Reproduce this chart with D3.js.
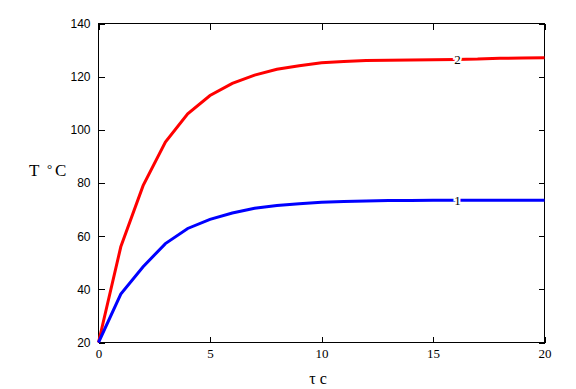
<!DOCTYPE html>
<html>
<head>
<meta charset="utf-8">
<script src="https://cdn.jsdelivr.net/npm/d3@7"></script>
<style>
  body { margin: 0; background: #fff; }
  svg { display: block; }
  .yax text { font-family: "Liberation Sans", Arial, sans-serif; font-size: 12px; }
  .xax text { font-family: "Liberation Serif", "Times New Roman", serif; font-size: 13px; }
</style>
</head>
<body>
<script>
// time, min
var tau = [0,1,2,3,4,5,6,7,8,9,10,11,12,13,14,15,16,17,18,19,20];
// curve 2 (red)
var temp2 = [20,56,79,95.4,106,112.9,117.5,120.6,122.8,124.1,125.2,125.7,126.1,126.2,126.3,126.4,126.5,126.6,126.9,127,127.1];
// curve 1 (blue)
var temp1 = [20,38.2,48.5,57.2,62.9,66.3,68.7,70.5,71.5,72.2,72.8,73,73.2,73.4,73.4,73.5,73.5,73.5,73.5,73.5,73.5];
var xTicks = [0,5,10,15,20];
var yTicks = [20,40,60,80,100,120,140];

var w = 576, h = 389;
var svg = d3.select('body').append('svg').attr('width', w).attr('height', h);

var x = d3.scaleLinear().domain([0,20]).range([98.5,544.5]);
var y = d3.scaleLinear().domain([20,140]).range([342.5,23.5]);

// frame
svg.append('rect')
  .attr('x', x(0)).attr('y', y(140))
  .attr('width', x(20)-x(0)).attr('height', y(20)-y(140))
  .attr('fill', 'none').attr('stroke', '#000').attr('shape-rendering', 'crispEdges');

// axes, ticks inward on all sides
svg.append('g').attr('class','yax')
  .attr('transform', `translate(${x(0)},0)`)
  .call(d3.axisLeft(y).tickValues(yTicks).tickSize(-6).tickPadding(8))
  .call(g => g.select('.domain').remove());
svg.append('g')
  .attr('transform', `translate(${x(20)},0)`)
  .call(d3.axisRight(y).tickValues(yTicks).tickSize(-6).tickFormat(''))
  .call(g => g.select('.domain').remove());
svg.append('g').attr('class','xax')
  .attr('transform', `translate(0,${y(20)})`)
  .call(d3.axisBottom(x).tickValues(xTicks).tickSize(-6).tickPadding(6))
  .call(g => g.select('.domain').remove());
svg.append('g')
  .attr('transform', `translate(0,${y(140)})`)
  .call(d3.axisTop(x).tickValues(xTicks).tickSize(-6).tickFormat(''))
  .call(g => g.select('.domain').remove());
svg.selectAll('.tick line').attr('stroke', '#000').attr('shape-rendering', 'crispEdges');
svg.selectAll('.tick text').attr('fill', '#000');

var line = d3.line().x((d,i) => x(tau[i])).y(d => y(d));

var series = [
  {vals: temp2, color: '#ff0000', label: '2'},
  {vals: temp1, color: '#0000ff', label: '1'}
];

series.forEach(s => {
  svg.append('path')
    .attr('d', line(s.vals))
    .attr('fill', 'none')
    .attr('stroke', s.color)
    .attr('stroke-width', 3);
  svg.append('text')
    .attr('x', x(16.1)).attr('y', y(s.vals[16]))
    .attr('dy', '0.35em')
    .attr('text-anchor', 'middle')
    .attr('font-family', '"Liberation Serif", serif')
    .attr('font-size', 13)
    .attr('stroke', '#fff').attr('stroke-width', 4)
    .attr('paint-order', 'stroke')
    .text(s.label);
});

// axis titles
var yt = svg.append('text')
  .attr('y', 176)
  .attr('font-family', '"Liberation Serif", serif')
  .attr('font-size', 17);
yt.append('tspan').attr('x', 29).text('T');
yt.append('tspan').attr('x', 47).attr('font-size', 13).attr('dy', -3).text('\u00B0');
yt.append('tspan').attr('x', 55).attr('dy', 3).text('C');

svg.append('text')
  .attr('x', 318).attr('y', 384)
  .attr('text-anchor', 'middle')
  .attr('font-family', '"Liberation Serif", serif')
  .attr('font-size', 16)
  .text('\u03C4 c');
</script>
</body>
</html>
